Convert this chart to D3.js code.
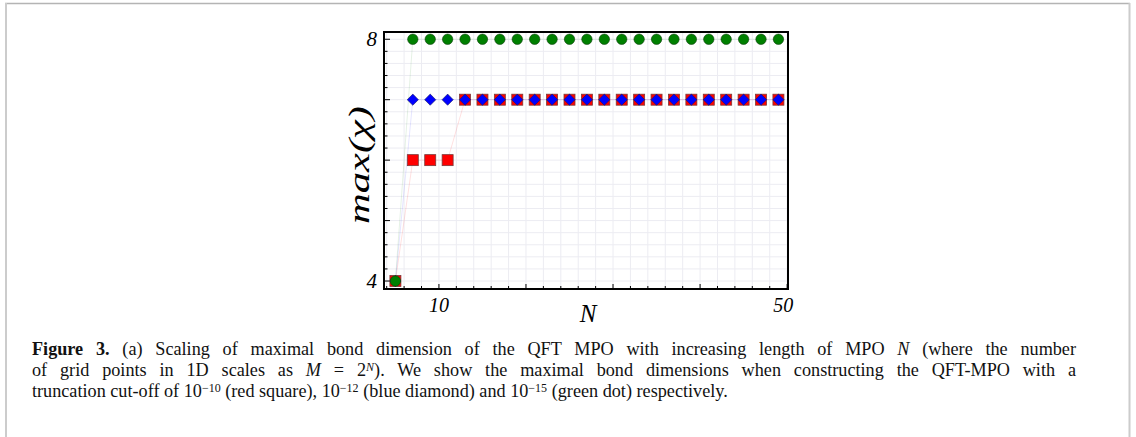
<!DOCTYPE html>
<html>
<head>
<meta charset="utf-8">
<script src="https://cdn.jsdelivr.net/npm/d3@7"></script>
<style>
  body { margin: 0; background: #fff; }
  svg { display: block; }
</style>
</head>
<body>
<svg width="1136" height="437"></svg>
<script>
// N values (length of MPO)
const nValues = [5, 7, 9, 11, 13, 15, 17, 19, 21, 23, 25, 27, 29, 31, 33, 35, 37, 39, 41, 43, 45, 47, 49];
// max bond dimension per cut-off
const redSquare   = [4, 6, 6, 6, 7, 7, 7, 7, 7, 7, 7, 7, 7, 7, 7, 7, 7, 7, 7, 7, 7, 7, 7];   // 1e-10
const blueDiamond = [4, 7, 7, 7, 7, 7, 7, 7, 7, 7, 7, 7, 7, 7, 7, 7, 7, 7, 7, 7, 7, 7, 7];   // 1e-12
const greenDot    = [4, 8, 8, 8, 8, 8, 8, 8, 8, 8, 8, 8, 8, 8, 8, 8, 8, 8, 8, 8, 8, 8, 8];   // 1e-15

const xTickLabels = [10, 50];
const yTickLabels = [4, 8];

const svg = d3.select("svg");

// page frame
svg.append("line").attr("x1", 5).attr("x2", 1130).attr("y1", 3.5).attr("y2", 3.5)
    .attr("stroke", "#b4b4b4").attr("stroke-width", 1.5);
svg.append("line").attr("x1", 6).attr("x2", 6).attr("y1", 3).attr("y2", 437)
    .attr("stroke", "#cccccc").attr("stroke-width", 2);
svg.append("line").attr("x1", 1129.5).attr("x2", 1129.5).attr("y1", 3).attr("y2", 437)
    .attr("stroke", "#cccccc").attr("stroke-width", 2);

const plotLeft = 384, plotRight = 788, plotTop = 32, plotBottom = 289;

const x = d3.scaleLinear().domain([3.69, 50.1]).range([plotLeft, plotRight]);
const y = d3.scaleLinear().domain([3.868, 8.12]).range([plotBottom, plotTop]);

const g = svg.append("g");

// grid
const xMinor = d3.range(4, 51, 2);
const yMinor = d3.range(40, 82, 2).map(v => v / 10);
g.selectAll(".gx").data(xMinor).enter().append("line")
    .attr("x1", d => x(d)).attr("x2", d => x(d))
    .attr("y1", plotTop).attr("y2", plotBottom)
    .attr("stroke", "#ececf2").attr("stroke-width", 1);
g.selectAll(".gy").data(yMinor).enter().append("line")
    .attr("x1", plotLeft).attr("x2", plotRight)
    .attr("y1", d => y(d)).attr("y2", d => y(d))
    .attr("stroke", "#ececf2").attr("stroke-width", 1);

// ticks (inward)
g.selectAll(".tx").data(xMinor).enter().append("line")
    .attr("x1", d => x(d)).attr("x2", d => x(d))
    .attr("y1", plotBottom).attr("y2", d => plotBottom - (d % 10 === 0 ? 5 : 3))
    .attr("stroke", "#000").attr("stroke-width", 1);
g.selectAll(".ty").data(yMinor).enter().append("line")
    .attr("x1", plotLeft).attr("x2", d => plotLeft + (Math.abs(d - Math.round(d)) < 1e-6 ? 6 : 3.5))
    .attr("y1", d => y(d)).attr("y2", d => y(d))
    .attr("stroke", "#000").attr("stroke-width", 1);

// faint connecting lines
const series = [
    {vals: redSquare, line: "rgba(255,0,0,0.12)"},
    {vals: blueDiamond, line: "rgba(0,0,255,0.10)"},
    {vals: greenDot, line: "rgba(0,128,0,0.10)"}
];
const line = d3.line().x(d => x(d[0])).y(d => y(d[1]));
series.forEach(s => {
    g.append("path")
        .attr("d", line(nValues.map((n, i) => [n, s.vals[i]])))
        .attr("fill", "none").attr("stroke", s.line).attr("stroke-width", 1);
});

// markers
g.selectAll(".sq").data(nValues.map((n, i) => [n, redSquare[i]])).enter().append("rect")
    .attr("x", d => x(d[0]) - 5.5).attr("y", d => y(d[1]) - 5.5)
    .attr("width", 11).attr("height", 11)
    .attr("fill", "#ff0000").attr("stroke", "#7a3a3a").attr("stroke-width", 0.8);
g.selectAll(".di").data(nValues.map((n, i) => [n, blueDiamond[i]])).enter().append("path")
    .attr("d", d => {
        const cx = x(d[0]), cy = y(d[1]), r = 5.6;
        return `M${cx},${cy - r}L${cx + r},${cy}L${cx},${cy + r}L${cx - r},${cy}Z`;
    })
    .attr("fill", "#0000ff").attr("stroke", "#1a1a5a").attr("stroke-width", 0.6);
g.selectAll(".ci").data(nValues.map((n, i) => [n, greenDot[i]])).enter().append("circle")
    .attr("cx", d => x(d[0])).attr("cy", d => y(d[1])).attr("r", 5.2)
    .attr("fill", "#008000").attr("stroke", "#0d3d0d").attr("stroke-width", 0.6);

// frame
g.append("rect").attr("x", plotLeft).attr("y", plotTop)
    .attr("width", plotRight - plotLeft).attr("height", plotBottom - plotTop)
    .attr("fill", "none").attr("stroke", "#000").attr("stroke-width", 2);

// tick labels
const labelFont = "'Liberation Serif', 'Times New Roman', serif";
g.selectAll(".xl").data(xTickLabels).enter().append("text")
    .attr("x", (d, i) => i === xTickLabels.length - 1 ? x(d) + 6 : x(d))
    .attr("y", 312)
    .attr("text-anchor", (d, i) => i === xTickLabels.length - 1 ? "end" : "middle")
    .attr("font-family", labelFont).attr("font-style", "italic").attr("font-size", 20)
    .text(d => d);
g.selectAll(".yl").data(yTickLabels).enter().append("text")
    .attr("x", 377).attr("y", d => y(d) + 7)
    .attr("text-anchor", "end")
    .attr("font-family", labelFont).attr("font-style", "italic").attr("font-size", 21)
    .text(d => d);

// axis titles
svg.append("text").attr("x", 588).attr("y", 322).attr("text-anchor", "middle")
    .attr("font-family", labelFont).attr("font-style", "italic").attr("font-size", 25)
    .text("N");
svg.append("text").attr("transform", "translate(369,165) rotate(-90)")
    .attr("text-anchor", "middle")
    .attr("font-family", labelFont).attr("font-style", "italic").attr("font-size", 29)
    .attr("textLength", 118).attr("lengthAdjust", "spacingAndGlyphs")
    .text("max(χ)");

// caption (justified paragraph, last line ragged)
const capFont = "'Liberation Serif', 'Times New Roman', serif";
const capX = 32, capRight = 1076, lastLineRight = 728;
const cap = svg.append("g").attr("font-family", capFont).attr("font-size", 17).attr("fill", "#111");

const l1 = cap.append("text").attr("x", capX).attr("y", 355);
l1.append("tspan").attr("font-weight", "bold").text("Figure 3.");
l1.append("tspan").text(" (a) Scaling of maximal bond dimension of the QFT MPO with increasing length of MPO ");
l1.append("tspan").attr("font-style", "italic").text("N");
l1.append("tspan").text(" (where the number");

const l2 = cap.append("text").attr("x", capX).attr("y", 376);
l2.append("tspan").text("of grid points in 1D scales as ");
l2.append("tspan").attr("font-style", "italic").text("M");
l2.append("tspan").text(" = 2");
l2.append("tspan").attr("class", "sup").attr("font-style", "italic").attr("dy", -5).text("N");
l2.append("tspan").attr("dy", 5).text("). We show the maximal bond dimensions when constructing the QFT-MPO with a");

const l3 = cap.append("text").attr("x", capX).attr("y", 397);
const sup = (t, s) => {
    t.append("tspan").attr("class", "sup").attr("dy", -5).text(s);
};
l3.append("tspan").text("truncation cut-off of 10");
sup(l3, "−10");
l3.append("tspan").attr("dy", 5).text(" (red square), 10");
sup(l3, "−12");
l3.append("tspan").attr("dy", 5).text(" (blue diamond) and 10");
sup(l3, "−15");
l3.append("tspan").attr("dy", 5).text(" (green dot) respectively.");

// font size from the ragged last line, then justify lines 1 and 2 with word spacing
cap.selectAll(".sup").attr("font-size", 17 * 0.66);
const fs = 17 * (lastLineRight - capX) / l3.node().getComputedTextLength();
cap.attr("font-size", fs);
cap.selectAll(".sup").attr("font-size", fs * 0.66);
[l1, l2].forEach(t => {
    const spaces = (t.node().textContent.match(/ /g) || []).length;
    const extra = (capRight - capX - t.node().getComputedTextLength()) / spaces;
    t.attr("word-spacing", extra);
});
</script>
</body>
</html>
